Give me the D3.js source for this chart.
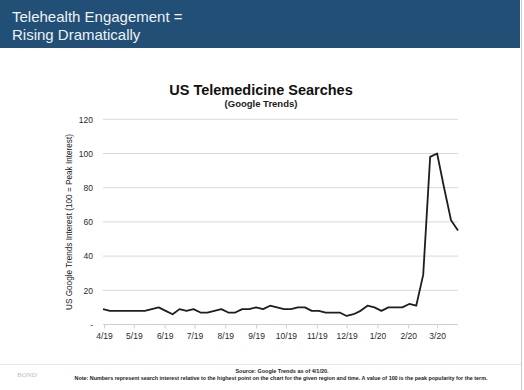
<!DOCTYPE html>
<html>
<head>
<meta charset="utf-8">
<script src="https://cdn.jsdelivr.net/npm/d3@7"></script>
<style>
  body { margin: 0; background: #fff; }
  svg { display: block; font-family: "Liberation Sans", Arial, sans-serif; }
</style>
</head>
<body>
<script>
// weekly Google Trends data, week starting dates
const weeks = [
  "2019-03-31", "2019-04-07", "2019-04-14", "2019-04-21", "2019-04-28",
  "2019-05-05", "2019-05-12", "2019-05-19", "2019-05-26",
  "2019-06-02", "2019-06-09", "2019-06-16", "2019-06-23", "2019-06-30",
  "2019-07-07", "2019-07-14", "2019-07-21", "2019-07-28",
  "2019-08-04", "2019-08-11", "2019-08-18", "2019-08-25",
  "2019-09-01", "2019-09-08", "2019-09-15", "2019-09-22", "2019-09-29",
  "2019-10-06", "2019-10-13", "2019-10-20", "2019-10-27",
  "2019-11-03", "2019-11-10", "2019-11-17", "2019-11-24",
  "2019-12-01", "2019-12-08", "2019-12-15", "2019-12-22", "2019-12-29",
  "2020-01-05", "2020-01-12", "2020-01-19", "2020-01-26",
  "2020-02-02", "2020-02-09", "2020-02-16", "2020-02-23",
  "2020-03-01", "2020-03-08", "2020-03-15", "2020-03-22"
];
const interest = [
  9, 8, 8, 8, 8, 8, 8, 9, 10, 8,
  6, 9, 8, 9, 7, 7, 8, 9, 7, 7,
  9, 9, 10, 9, 11, 10, 9, 9, 10, 10,
  8, 8, 7, 7, 7, 5, 6, 8, 11, 10,
  8, 10, 10, 10, 12, 11, 29, 98, 100, 80,
  61, 55
];
const monthTicks = [
  "2019-04-01", "2019-05-01", "2019-06-01", "2019-07-01", "2019-08-01", "2019-09-01",
  "2019-10-01", "2019-11-01", "2019-12-01", "2020-01-01", "2020-02-01", "2020-03-01"
];
const yTicks = [0, 20, 40, 60, 80, 100, 120];

const w = 524;
const h = 390;
const parse = d3.timeParse("%Y-%m-%d");
const data = weeks.map((d, i) => ({ date: parse(d), value: interest[i] }));

const svg = d3.select("body")
  .append("svg")
  .attr("width", w)
  .attr("height", h);

// header band
svg.append("rect")
  .attr("x", 0).attr("y", 0)
  .attr("width", 520).attr("height", 48)
  .attr("fill", "#214f75");

svg.append("text")
  .attr("x", 12).attr("y", 22)
  .attr("font-size", 15)
  .attr("fill", "#eef2f6")
  .text("Telehealth Engagement =");
svg.append("text")
  .attr("x", 12).attr("y", 40)
  .attr("font-size", 15)
  .attr("fill", "#eef2f6")
  .text("Rising Dramatically");

// slide edge
svg.append("line")
  .attr("x1", 521.5).attr("x2", 521.5)
  .attr("y1", 0).attr("y2", h)
  .attr("stroke", "#c8c8c8");

// chart titles
svg.append("text")
  .attr("x", 261).attr("y", 95)
  .attr("text-anchor", "middle")
  .attr("font-size", 14.5)
  .attr("font-weight", "bold")
  .attr("fill", "#111")
  .text("US Telemedicine Searches");
svg.append("text")
  .attr("x", 261).attr("y", 107)
  .attr("text-anchor", "middle")
  .attr("font-size", 9.5)
  .attr("font-weight", "bold")
  .attr("fill", "#222")
  .text("(Google Trends)");

const xScale = d3.scaleTime()
  .domain([parse(weeks[0]), parse(weeks[weeks.length - 1])])
  .range([103, 458]);

const yScale = d3.scaleLinear()
  .domain([0, 120])
  .range([324.5, 119.3]);

// gridlines
svg.append("g")
  .selectAll("line")
  .data(yTicks.slice(1))
  .enter()
  .append("line")
  .attr("x1", 103).attr("x2", 458)
  .attr("y1", (d) => yScale(d)).attr("y2", (d) => yScale(d))
  .attr("stroke", "#d9d9d9");

// y axis labels
const yAxis = d3.axisLeft(yScale)
  .tickValues(yTicks)
  .tickSize(0)
  .tickPadding(10)
  .tickFormat((d) => d === 0 ? "-" : d);

svg.append("g")
  .attr("transform", "translate(103,0)")
  .call(yAxis)
  .call((g) => g.select(".domain").remove())
  .call((g) => g.selectAll("text")
    .attr("font-family", "Liberation Sans, Arial, sans-serif")
    .attr("font-size", 8.5)
    .attr("fill", "#2a2a2a"));

// x axis
const xAxis = d3.axisBottom(xScale)
  .tickValues(monthTicks.map(parse))
  .tickSize(4)
  .tickPadding(4)
  .tickFormat(d3.timeFormat("%-m/%y"));

svg.append("g")
  .attr("transform", "translate(0," + yScale(0) + ")")
  .call(xAxis)
  .call((g) => g.select(".domain").attr("stroke", "#d0d0d0").attr("d", "M103,0H458"))
  .call((g) => g.selectAll(".tick line").attr("stroke", "#d0d0d0"))
  .call((g) => g.selectAll("text")
    .attr("font-family", "Liberation Sans, Arial, sans-serif")
    .attr("font-size", 8.5)
    .attr("fill", "#2a2a2a"));

// y axis title
svg.append("text")
  .attr("transform", "translate(72,222) rotate(-90)")
  .attr("text-anchor", "middle")
  .attr("font-size", 8.2)
  .attr("fill", "#222")
  .text("US Google Trends Interest (100 = Peak Interest)");

// line
const line = d3.line()
  .x((d) => xScale(d.date))
  .y((d) => yScale(d.value));

svg.append("path")
  .datum(data)
  .attr("d", line)
  .attr("fill", "none")
  .attr("stroke", "#1e1e1e")
  .attr("stroke-width", 1.8)
  .attr("stroke-linejoin", "round");

// footer
svg.append("line")
  .attr("x1", 0).attr("x2", 521)
  .attr("y1", 364.5).attr("y2", 364.5)
  .attr("stroke", "#e6e6e6");

svg.append("text")
  .attr("x", 17).attr("y", 377)
  .attr("font-family", "Liberation Serif, serif")
  .attr("font-size", 7)
  .attr("fill", "#bbb")
  .text("BOND");

svg.append("text")
  .attr("x", 282).attr("y", 373)
  .attr("text-anchor", "middle")
  .attr("font-size", 5.5)
  .attr("font-weight", "bold")
  .attr("fill", "#222")
  .text("Source: Google Trends as of 4/1/20.");

svg.append("text")
  .attr("x", 281).attr("y", 380)
  .attr("text-anchor", "middle")
  .attr("font-size", 5.4)
  .attr("font-weight", "bold")
  .attr("fill", "#222")
  .text("Note: Numbers represent search interest relative to the highest point on the chart for the given region and time. A value of 100 is the peak popularity for the term.");
</script>
</body>
</html>
